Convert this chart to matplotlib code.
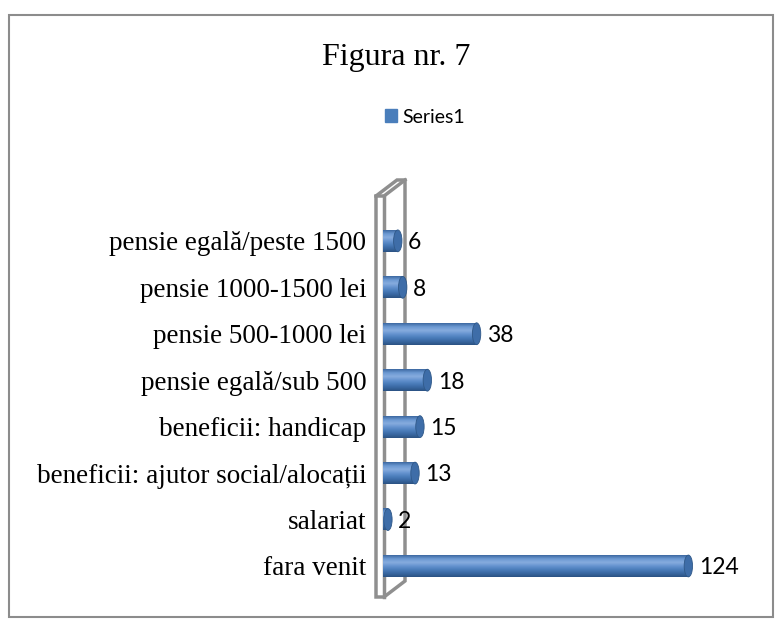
import numpy as np
import matplotlib.pyplot as plt
from matplotlib.patches import Rectangle, Polygon, Ellipse, Patch
from matplotlib.colors import LinearSegmentedColormap

categories = ['fara venit', 'salariat', 'beneficii: ajutor social/alocații',
              'beneficii: handicap', 'pensie egală/sub 500', 'pensie 500-1000 lei',
              'pensie 1000-1500 lei', 'pensie egală/peste 1500']
values = [124, 2, 13, 15, 18, 38, 8, 6]

W, H = 782, 627
fig = plt.figure(figsize=(W / 100, H / 100), dpi=100)

def fx(px):
    return px / W

def fy(py):
    return 1 - py / H

# outer chart border
fig.patches.append(Rectangle((fx(9), fy(617)), fx(764), (602) / H, transform=fig.transFigure,
                             fill=False, edgecolor='#8c8c8c', linewidth=1.5))

# 3d wall behind the category axis
gray = '#8f8f8f'
fig.patches.append(Polygon([(fx(376), fy(196)), (fx(397), fy(180)), (fx(405), fy(180)),
                            (fx(405), fy(581)), (fx(384), fy(597)), (fx(376), fy(597))],
                           closed=True, transform=fig.transFigure,
                           fill=False, edgecolor=gray, linewidth=2.5))
fig.add_artist(plt.Line2D([fx(384), fx(384)], [fy(196), fy(597)], transform=fig.transFigure,
                          color=gray, linewidth=2.5))
fig.add_artist(plt.Line2D([fx(376), fx(384), fx(405)], [fy(196), fy(196), fy(180)],
                          transform=fig.transFigure, color=gray, linewidth=2.5))

ax = fig.add_axes([fx(383), fy(595), fx(745) - fx(383), (595 - 180) / H])
ax.patch.set_alpha(0)
ax.set_zorder(3)

cyl = LinearSegmentedColormap.from_list('cyl', ['#2B5283', '#3A68A2', '#4A7DBA', '#6593CF',
                                                '#86ACDE', '#6C99D2', '#3D69A2'])
grad = np.linspace(0, 1, 64).reshape(-1, 1)

pos = list(range(len(values)))
bh = 0.47
for p, v in zip(pos, values):
    ax.imshow(grad, extent=(0, v, p - bh / 2, p + bh / 2), origin='lower', aspect='auto',
              cmap=cyl, interpolation='bilinear', zorder=2)
    ax.add_patch(Ellipse((v, p), 3.4, bh, facecolor='#3E6DA8', edgecolor='#2F5888',
                         linewidth=0.6, zorder=3))
    ax.text(v + 4.2, p - 0.04, str(v), va='center', ha='left', fontsize=16.5,
            fontfamily='Lato', color='black')

ax.set_xlim(0, 147)
ax.set_ylim(-0.625, 8.31)
ax.set_yticks(pos)
ax.set_yticklabels(categories, fontfamily='Liberation Serif', fontsize=19.5)
ax.tick_params(axis='y', length=0, pad=12)
ax.set_xticks([])
for s in ax.spines.values():
    s.set_visible(False)

fig.text(fx(396), fy(58), 'Figura nr. 7', ha='center', va='center',
         fontfamily='Liberation Serif', fontsize=23)
fig.legend(handles=[Patch(facecolor='#4A7EBB', edgecolor='#4A7EBB', label='Series1')],
           loc='center', bbox_to_anchor=(fx(425), fy(117)), frameon=False,
           prop={'family': 'Lato', 'size': 14}, handlelength=0.6, handleheight=0.6,
           handletextpad=0.3)

fig.savefig('out.png', dpi=100)
